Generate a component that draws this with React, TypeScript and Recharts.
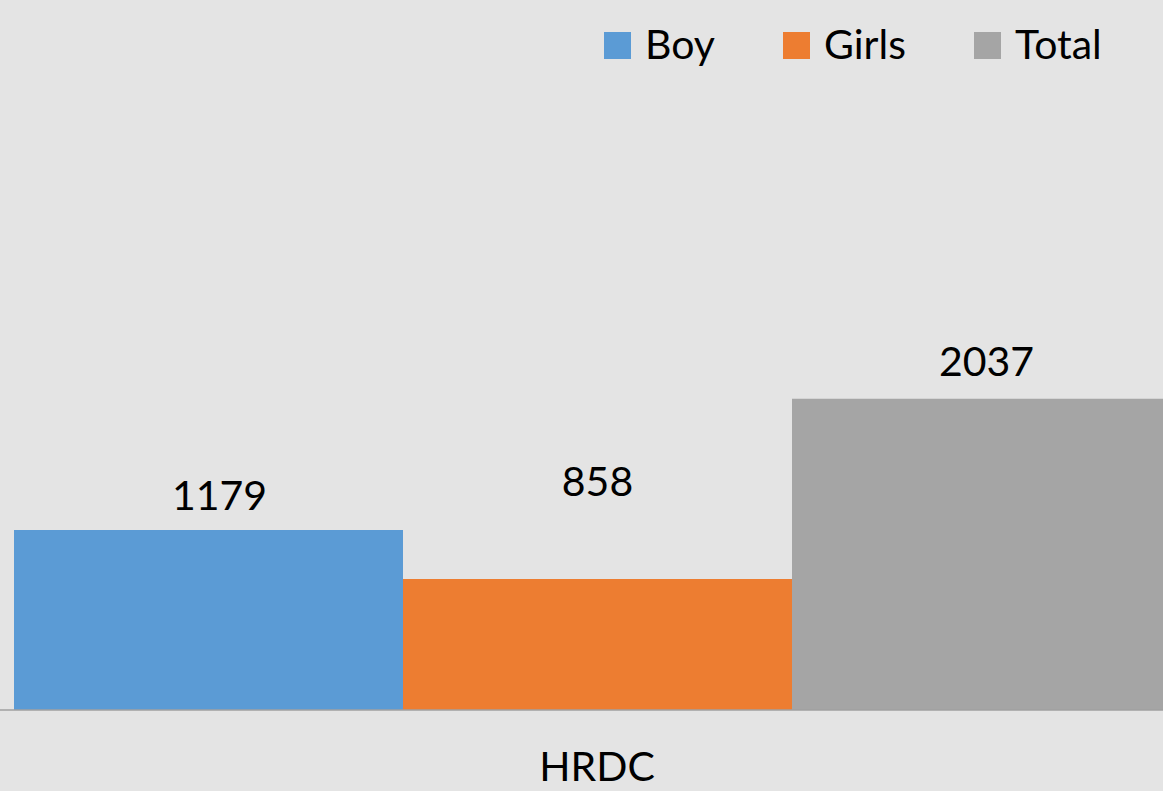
import { BarChart, Bar, XAxis, YAxis, Legend, LabelList } from "recharts"

const categories = ["HRDC"]
const boyValues = [1179]
const girlsValues = [858]
const totalValues = [2037]

const data = categories.map((name, i) => ({
  name,
  Boy: boyValues[i],
  Girls: girlsValues[i],
  Total: totalValues[i],
}))

const FONT = "Lato, 'Open Sans', sans-serif"

// label placement above each bar (gap above top edge, horizontal nudge)
function makeLabel(gap: number, dx: number) {
  return (props: any) => {
    const { x, y, width, value } = props
    return (
      <text x={Number(x) + Number(width) / 2 + dx} y={Number(y) - gap} textAnchor="middle" fontSize={41} fill="#000" fontFamily={FONT}>
        {value}
      </text>
    )
  }
}

function CategoryTick(props: any) {
  const { x, y, payload } = props
  return (
    <text x={x} y={y + 71} textAnchor="middle" fontSize={41} fill="#000" fontFamily={FONT}>
      {payload.value}
    </text>
  )
}

function LegendContent(props: any) {
  const { payload = [] } = props
  return (
    <div style={{ display: "flex", alignItems: "baseline", fontFamily: FONT, fontSize: 41, lineHeight: "41px", color: "#000" }}>
      {payload.map((entry: any) => (
        <div key={entry.value} style={{ display: "flex", alignItems: "baseline", marginRight: 68 }}>
          <span style={{ display: "inline-block", width: 27, height: 27, background: entry.color, marginRight: 14 }} />
          <span>{entry.value}</span>
        </div>
      ))}
    </div>
  )
}

export default function App() {
  return (
    <div
      style={{
        position: "absolute",
        left: 0,
        top: 0,
        width: 1163,
        height: 791,
        overflow: "hidden",
        background: "#e4e4e4",
      }}
    >
      <BarChart
        width={1194}
        height={791}
        data={data}
        margin={{ top: 99, right: 0, bottom: 0, left: 0 }}
        barCategoryGap={14}
        barGap={0}
        style={{ fontFamily: FONT }}
      >
        <XAxis
          dataKey="name"
          height={81}
          tickLine={false}
          tickSize={0}
          tickMargin={0}
          axisLine={{ stroke: "#a0a0a0", strokeWidth: 1.5 }}
          tick={<CategoryTick />}
        />
        <YAxis hide domain={[0, 4000]} />
        <Legend
          layout="horizontal"
          verticalAlign="middle"
          align="center"
          wrapperStyle={{ top: 23, left: 604, width: "auto" }}
          content={<LegendContent />}
        />
        <Bar dataKey="Boy" fill="#5b9bd5" isAnimationActive={false}>
          <LabelList dataKey="Boy" content={makeLabel(20, 11)} />
        </Bar>
        <Bar dataKey="Girls" fill="#ed7d31" isAnimationActive={false}>
          <LabelList dataKey="Girls" content={makeLabel(83, 0)} />
        </Bar>
        <Bar dataKey="Total" fill="#a5a5a5" isAnimationActive={false}>
          <LabelList dataKey="Total" content={makeLabel(23, 0)} />
        </Bar>
      </BarChart>
    </div>
  )
}
